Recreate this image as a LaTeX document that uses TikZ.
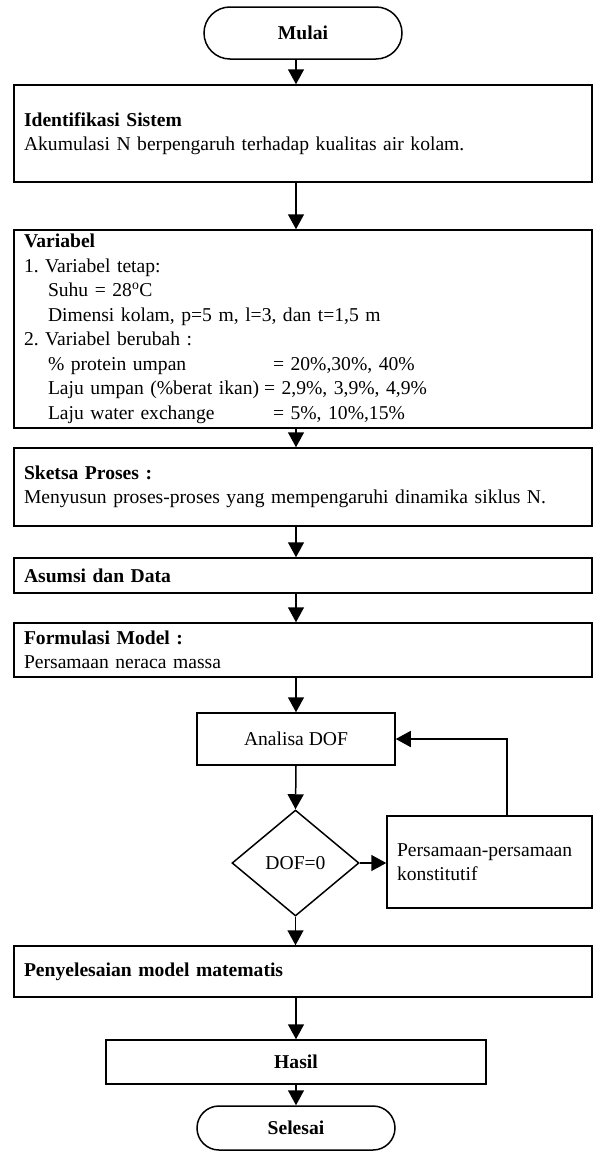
\documentclass[tikz,border=0pt]{standalone}
\usepackage{fontspec}
\setmainfont{Liberation Serif}
\usetikzlibrary{arrows.meta,shapes.geometric}
\frenchspacing
\begin{document}
\begin{tikzpicture}[x=1pt,y=-1pt,
  every node/.style={font=\fontsize{19.6}{24.5}\selectfont},
  bigbox/.style={draw,line width=1.5pt,text width=558pt,inner xsep=10pt,inner ysep=2pt,align=left},
  procbox/.style={draw,line width=1.5pt,inner sep=2pt,align=center},
  sidebox/.style={draw,line width=1.5pt,text width=185pt,inner xsep=10pt,inner ysep=2pt,align=left},
  term/.style={draw,line width=1.5pt,minimum width=198pt,inner sep=0pt},
  decision/.style={draw,diamond,line width=1.5pt,minimum width=127pt,minimum height=106pt,inner sep=0pt,aspect=1.2},
  arr/.style={line width=1.5pt,-{Triangle[length=15pt,width=16pt]}}
]
\useasboundingbox (0,0) rectangle (593,1151);
\coordinate (c) at (296,0);

\node[term,minimum height=52pt,rounded corners=26pt] (mulai) at (303,33) {\textbf{Mulai}};

\node[bigbox,minimum height=97pt] (ident) at (303,133.5)
  {\textbf{Identifikasi Sistem}\\Akumulasi N berpengaruh terhadap kualitas air kolam.};

\node[bigbox,minimum height=198pt] (var) at (303,329)
  {\textbf{Variabel}\\
   1. Variabel tetap:\\
   \hspace*{24pt}Suhu = 28\textsuperscript{o}C\\
   \hspace*{24pt}Dimensi kolam, p=5 m, l=3, dan t=1,5 m\\
   2. Variabel berubah :\\
   \hspace*{24pt}\makebox[225pt][l]{\% protein umpan}= 20\%,30\%, 40\%\\
   \hspace*{24pt}\makebox[216pt][l]{Laju umpan (\%berat ikan)}= 2,9\%, 3,9\%, 4,9\%\\
   \hspace*{24pt}\makebox[225pt][l]{Laju water exchange}= 5\%, 10\%,15\%};

\node[bigbox,minimum height=78pt] (sketsa) at (303,487)
  {\textbf{Sketsa Proses :}\\Menyusun proses-proses yang mempengaruhi dinamika siklus N.};

\node[bigbox,minimum height=35pt] (asumsi) at (303,575.5) {\textbf{Asumsi dan Data}};

\node[bigbox,minimum height=54pt] (formul) at (303,650)
  {\textbf{Formulasi Model :}\\Persamaan neraca massa};

\node[procbox,minimum width=198pt,minimum height=52pt] (dof) at (296,739) {Analisa DOF};

\node[decision] (cek) at (295.5,863) {DOF=0};

\node[sidebox,minimum height=92pt] (konst) at (489.5,862)
  {Persamaan-persamaan\\konstitutif};

\node[bigbox,minimum height=51pt] (selesaikan) at (303,971.5) {\textbf{Penyelesaian model matematis}};

\node[procbox,minimum width=380pt,minimum height=44pt] (hasil) at (296,1062) {\textbf{Hasil}};

\node[term,minimum height=44pt,rounded corners=22pt] (selesai) at (296,1128) {\textbf{Selesai}};

\draw[arr] (mulai.south -| c) -- (ident.north -| c);
\draw[arr] (ident.south -| c) -- (var.north -| c);
\draw[arr] (var.south -| c) -- (sketsa.north -| c);
\draw[arr] (sketsa.south -| c) -- (asumsi.north -| c);
\draw[arr] (asumsi.south -| c) -- (formul.north -| c);
\draw[arr] (formul.south -| c) -- (dof.north);
\draw[arr] (dof.south) -- (cek.north);
\draw[arr] (cek.east) -- (konst.west |- cek.east);
\draw[arr] ([xshift=17.5pt]konst.north) |- (dof.east);
\draw[arr] (cek.south) -- (selesaikan.north -| cek.south);
\draw[arr] (selesaikan.south -| c) -- (hasil.north);
\draw[arr] (hasil.south) -- (selesai.north);
\end{tikzpicture}
\end{document}
